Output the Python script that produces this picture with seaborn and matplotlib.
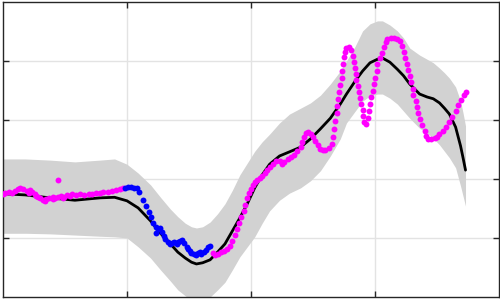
import numpy as np
import pandas as pd
import matplotlib
matplotlib.use('Agg')
import matplotlib.pyplot as plt
import seaborn as sns

# posterior mean and band (x in 0..4, y in -3..2)
grid_x = [0.00, 0.18, 0.38, 0.58, 0.78, 0.90, 1.00, 1.09, 1.19, 1.27, 1.35, 1.41, 1.47, 1.52,
          1.56, 1.61, 1.67, 1.73, 1.79, 1.85, 1.91, 1.97, 2.03, 2.09, 2.15, 2.23, 2.31, 2.40,
          2.48, 2.56, 2.64, 2.72, 2.77, 2.84, 2.90, 2.96, 3.02, 3.06, 3.12, 3.18, 3.23, 3.28,
          3.36, 3.42, 3.47, 3.52, 3.56, 3.60, 3.65, 3.69, 3.71, 3.73]
mean_y = [-1.25, -1.27, -1.32, -1.36, -1.32, -1.31, -1.37, -1.49, -1.71, -1.92, -2.10, -2.24,
          -2.34, -2.41, -2.44, -2.42, -2.37, -2.24, -2.10, -1.88, -1.66, -1.42, -1.15, -0.93,
          -0.75, -0.61, -0.54, -0.46, -0.32, -0.15, 0.03, 0.27, 0.44, 0.66, 0.83, 0.97, 1.03,
          1.05, 0.98, 0.86, 0.75, 0.61, 0.44, 0.39, 0.36, 0.29, 0.20, 0.10, -0.12, -0.44,
          -0.64, -0.85]
upper_y = [-0.66, -0.66, -0.68, -0.71, -0.68, -0.66, -0.75, -0.90, -1.10, -1.31, -1.51, -1.64,
           -1.75, -1.81, -1.83, -1.81, -1.73, -1.59, -1.42, -1.19, -0.93, -0.73, -0.53, -0.37,
           -0.24, -0.05, 0.10, 0.20, 0.29, 0.42, 0.61, 0.83, 1.00, 1.25, 1.51, 1.63, 1.68,
           1.68, 1.61, 1.51, 1.39, 1.22, 1.10, 1.03, 0.97, 0.88, 0.80, 0.71, 0.56, 0.32, 0.12,
           -0.10]
lower_y = [-1.92, -1.92, -1.93, -1.95, -1.97, -1.98, -2.00, -2.15, -2.34, -2.54, -2.73, -2.88,
           -2.98, -3.05, -3.07, -3.05, -3.00, -2.88, -2.75, -2.54, -2.32, -2.15, -1.98, -1.75,
           -1.54, -1.36, -1.24, -1.15, -1.03, -0.86, -0.61, -0.32, -0.05, 0.15, 0.32, 0.41,
           0.44, 0.44, 0.37, 0.27, 0.15, 0.03, -0.14, -0.22, -0.31, -0.42, -0.53, -0.64, -0.81,
           -1.12, -1.29, -1.46]

# observed points
pink_x = [0.00, 0.02, 0.05, 0.07, 0.10, 0.12, 0.14, 0.16, 0.19, 0.21, 0.22, 0.23, 0.26, 0.27,
          0.28, 0.30, 0.32, 0.34, 0.35, 0.37, 0.40, 0.40, 0.42, 0.44, 0.44, 0.47, 0.48, 0.49,
          0.52, 0.54, 0.56, 0.59, 0.62, 0.65, 0.69, 0.72, 0.75, 0.78, 0.81, 0.85, 0.88, 0.91,
          0.94, 0.97,
          1.69, 1.71, 1.73, 1.76, 1.78, 1.81, 1.83, 1.85, 1.87, 1.89, 1.90, 1.92, 1.94, 1.95,
          1.97, 1.98, 2.00, 2.02, 2.03, 2.05, 2.07, 2.09, 2.11, 2.13, 2.15, 2.18, 2.20, 2.23,
          2.25, 2.27, 2.30, 2.32, 2.35, 2.37, 2.40, 2.41, 2.43, 2.44, 2.46, 2.48, 2.50, 2.52,
          2.54, 2.56, 2.58, 2.60, 2.63, 2.65, 2.66, 2.67, 2.68, 2.69, 2.69, 2.70, 2.71, 2.72,
          2.73, 2.73, 2.74, 2.75, 2.76, 2.77, 2.79, 2.81, 2.82, 2.83, 2.84, 2.85, 2.85, 2.86,
          2.87, 2.88, 2.89, 2.90, 2.90, 2.91, 2.93, 2.94, 2.95, 2.96, 2.97, 2.98, 2.99, 3.00,
          3.02, 3.02, 3.04, 3.06, 3.07, 3.09, 3.10, 3.13, 3.15, 3.18, 3.20, 3.22, 3.23, 3.24,
          3.26, 3.27, 3.28, 3.29, 3.31, 3.31, 3.33, 3.34, 3.35, 3.36, 3.38, 3.40, 3.41, 3.43,
          3.45, 3.48, 3.50, 3.52, 3.55, 3.57, 3.60, 3.62, 3.65, 3.67, 3.69, 3.72, 3.73]
pink_y = [-1.25, -1.24, -1.22, -1.24, -1.20, -1.17, -1.15, -1.17, -1.20, -1.24, -1.19, -1.22,
          -1.25, -1.29, -1.31, -1.32, -1.36, -1.37, -1.34, -1.32, -1.34, -1.31, -1.32, -1.02,
          -1.31, -1.29, -1.32, -1.31, -1.27, -1.29, -1.25, -1.27, -1.25, -1.27, -1.25, -1.25,
          -1.24, -1.24, -1.22, -1.22, -1.20, -1.19, -1.17, -1.15,
          -2.25, -2.29, -2.27, -2.24, -2.22, -2.19, -2.14, -2.05, -1.95, -1.85, -1.75, -1.64,
          -1.54, -1.44, -1.32, -1.24, -1.17, -1.10, -1.05, -1.02, -0.98, -0.95, -0.90, -0.85,
          -0.80, -0.75, -0.69, -0.69, -0.75, -0.71, -0.66, -0.63, -0.59, -0.53, -0.46, -0.37,
          -0.29, -0.22, -0.20, -0.24, -0.29, -0.36, -0.42, -0.49, -0.51, -0.51, -0.47, -0.41,
          -0.29, -0.15, -0.02, 0.12, 0.24, 0.36, 0.47, 0.59, 0.71, 0.83, 0.95, 1.07, 1.15,
          1.22, 1.24, 1.19, 1.08, 0.98, 0.88, 0.78, 0.68, 0.58, 0.47, 0.37, 0.27, 0.17, 0.07,
          -0.03, -0.07, 0.03, 0.15, 0.27, 0.39, 0.49, 0.61, 0.71, 0.83, 0.95, 1.05, 1.14,
          1.24, 1.32, 1.37, 1.39, 1.39, 1.37, 1.34, 1.25, 1.15, 1.05, 0.95, 0.85, 0.75, 0.64,
          0.53, 0.42, 0.32, 0.22, 0.12, 0.02, -0.08, -0.19, -0.27, -0.32, -0.32, -0.31, -0.29,
          -0.24, -0.19, -0.12, -0.03, 0.05, 0.15, 0.25, 0.34, 0.42, 0.47]
blue_x = [0.98, 1.01, 1.03, 1.06, 1.08, 1.10, 1.13, 1.15, 1.18, 1.19, 1.21, 1.23, 1.23, 1.25,
          1.27, 1.28, 1.30, 1.31, 1.33, 1.35, 1.36, 1.38, 1.40, 1.41, 1.43, 1.44, 1.46, 1.48,
          1.49, 1.51, 1.52, 1.54, 1.56, 1.57, 1.59, 1.60, 1.62, 1.64, 1.65, 1.67]
blue_y = [-1.15, -1.14, -1.14, -1.15, -1.15, -1.22, -1.36, -1.46, -1.56, -1.64, -1.75, -1.92,
          -1.81, -1.85, -1.83, -1.90, -1.97, -2.02, -2.07, -2.10, -2.08, -2.07, -2.10, -2.07,
          -2.05, -2.03, -2.08, -2.15, -2.19, -2.22, -2.25, -2.27, -2.29, -2.25, -2.24, -2.27,
          -2.24, -2.20, -2.15, -2.14]

sns.set_style('white')
fig = plt.figure(figsize=(5, 2.99), dpi=100)
ax = fig.add_axes([0.006, 0.0067, 0.992, 0.9866])

ax.fill_between(grid_x, lower_y, upper_y, color='#d2d2d2', linewidth=0, zorder=1)
sns.lineplot(x=grid_x, y=mean_y, color='black', linewidth=2.0, sort=False, estimator=None,
             ax=ax, zorder=3)
sns.scatterplot(x=pink_x, y=pink_y, color='#ff00ff', s=18, linewidth=0, ax=ax, zorder=4)
sns.scatterplot(x=blue_x, y=blue_y, color='#0000ff', s=18, linewidth=0, ax=ax, zorder=4)

ax.set_xlim(0, 4)
ax.set_ylim(-3, 2)
ax.set_xticks([1, 2, 3])
ax.set_yticks([-2, -1, 0, 1])
ax.set_xticklabels([])
ax.set_yticklabels([])
ax.grid(True, color='#e3e3e3', linewidth=1.0)
ax.set_axisbelow(True)
ax.tick_params(direction='in', length=4, width=1, color='#262626',
               top=True, right=True, bottom=True, left=True)
for sp in ax.spines.values():
    sp.set_color('#262626')
    sp.set_linewidth(1.0)

fig.savefig('out.png', dpi=100)
